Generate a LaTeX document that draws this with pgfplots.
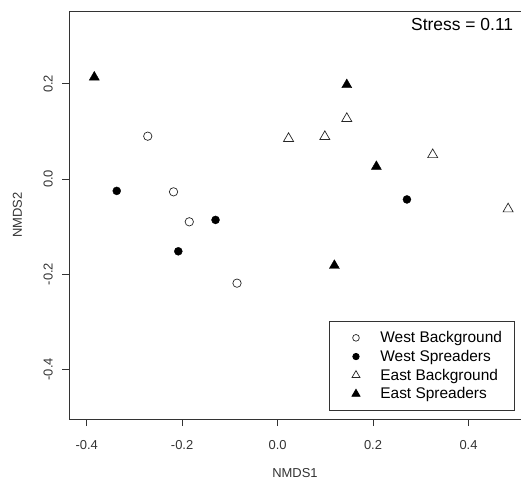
\documentclass[border=0pt]{standalone}
\usepackage{fontspec}
\setmainfont{Liberation Sans}
\usepackage{pgfplots}
\pgfplotsset{compat=1.18}
\begin{document}
\begin{tikzpicture}
\begin{axis}[
  name=ax,
  scale only axis,
  width=452bp, height=408bp,
  xmin=-0.437, xmax=0.510,
  ymin=-0.5046, ymax=0.3532,
  axis x line=box, axis y line=left,
  axis line style={-, black!80, line width=0.8bp},
  xtick pos=bottom, ytick pos=left,
  xtick={-0.4,-0.2,0,0.2,0.4}, ytick={-0.4,-0.2,0,0.2},
  xticklabels={-0.4,-0.2,0.0,0.2,0.4}, yticklabels={-0.4,-0.2,0.0,0.2},
  tick align=outside, major tick length=7bp,
  tick style={black!80, line width=0.8bp},
  ticklabel style={font=\fontsize{13}{15}\selectfont, text=black!80},
  yticklabel style={rotate=90, anchor=south, inner sep=0pt},
  xticklabel style={anchor=north, inner sep=0pt},
  yticklabel shift=9bp,
  xticklabel shift=14bp,
  xlabel=NMDS1, ylabel=NMDS2,
  label style={font=\fontsize{13}{15}\selectfont, text=black!80},
  xlabel style={at={(axis description cs:0.5,-0.1324)}, anchor=center},
  ylabel style={at={(axis description cs:-0.114,0.5)}, anchor=center},
  legend style={at={(rel axis cs:0.986,0.0196)}, anchor=south east,
    draw=black!80, line width=0.8bp, inner xsep=10.3bp, inner ysep=7.3bp,
    font=\fontsize{15.5}{18}\selectfont,
    nodes={inner ysep=0pt, text height=14.3bp, text depth=4.4bp},
    row sep=0pt},
  legend cell align=left,
  legend image code/.code={\path (-15.8bp,0bp) (22bp,0bp); \draw[#1,/tikz/every mark/.append style={scale=0.8}] plot coordinates {(0bp,0bp)};},
]
\addplot[only marks, mark=o, mark size=4.2bp, mark options={line width=0.7bp, draw=black!85}] coordinates {
(-0.272,0.090) (-0.218,-0.027) (-0.185,-0.090) (-0.085,-0.219)};
\addlegendentry{West Background}
\addplot[only marks, mark=*, mark size=4.0bp, mark options={draw=black, fill=black}] coordinates {
(-0.337,-0.025) (-0.130,-0.086) (-0.208,-0.152) (0.271,-0.043)};
\addlegendentry{West Spreaders}
\addplot[only marks, mark=triangle, mark size=5.8bp, mark options={line width=0.7bp, draw=black!85}] coordinates {
(0.145,0.127) (0.023,0.085) (0.099,0.089) (0.325,0.051) (0.483,-0.063)};
\addlegendentry{East Background}
\addplot[only marks, mark=triangle*, mark size=5.8bp, mark options={draw=black, fill=black}] coordinates {
(-0.384,0.214) (0.145,0.198) (0.207,0.026) (0.119,-0.182)};
\addlegendentry{East Spreaders}
\node[anchor=base east, inner sep=0pt, font=\fontsize{17.5}{20}\selectfont] at (rel axis cs:0.983,0.9534) {Stress = 0.11};
\end{axis}
\pgfresetboundingbox
\path ([xshift=-69bp,yshift=-64bp]ax.south west) rectangle ([yshift=11bp]ax.north east);
\end{tikzpicture}
\end{document}
